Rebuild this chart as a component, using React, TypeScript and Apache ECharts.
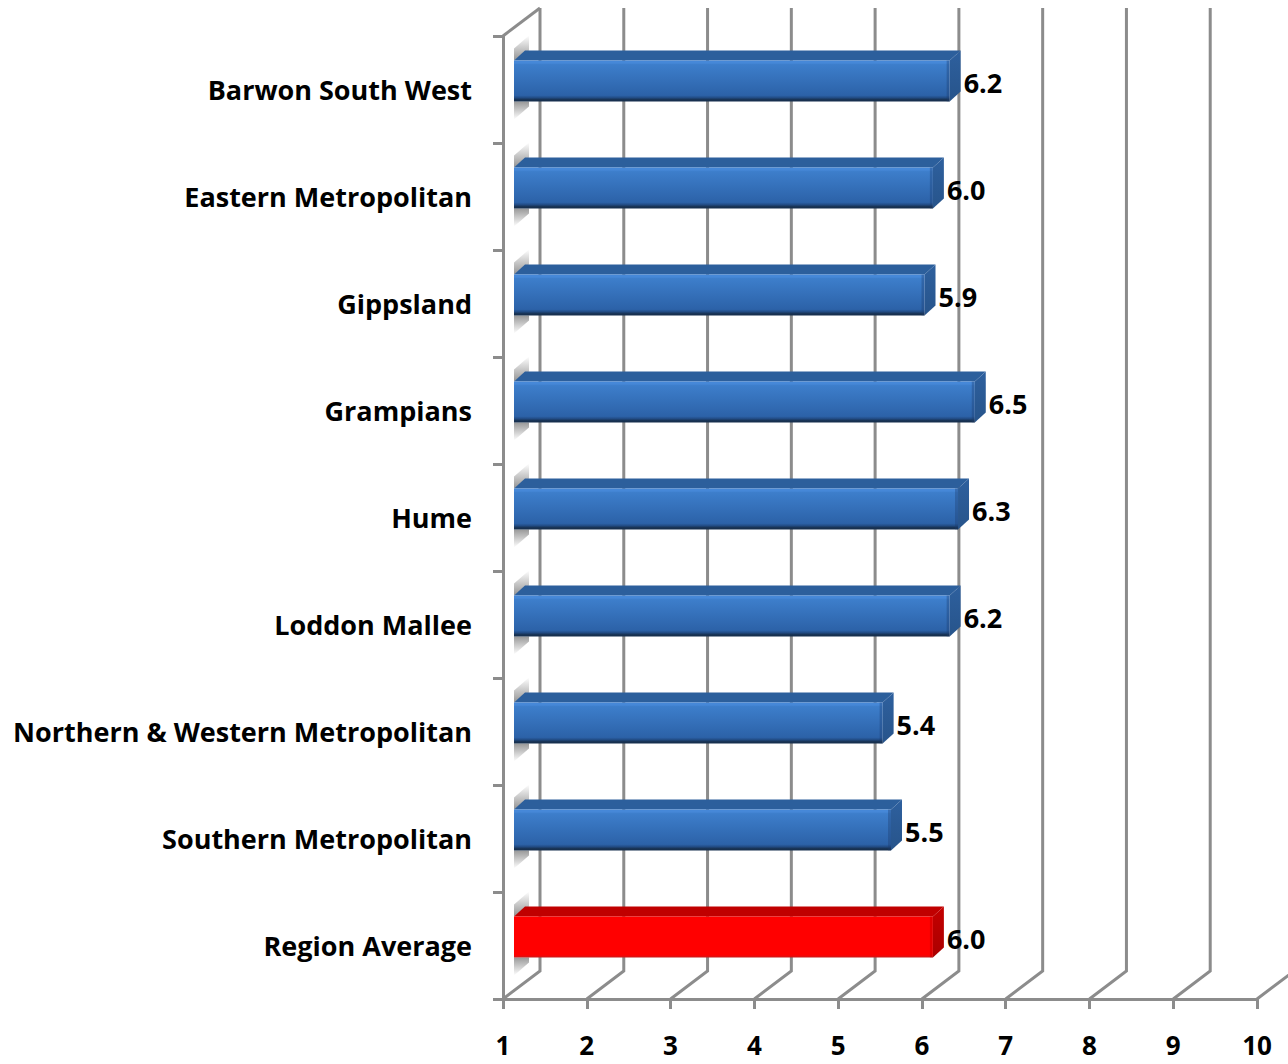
import React, { useEffect, useRef } from "react";
import * as echarts from "echarts";

const regions = [
  "Barwon South West",
  "Eastern Metropolitan",
  "Gippsland",
  "Grampians",
  "Hume",
  "Loddon Mallee",
  "Northern & Western Metropolitan",
  "Southern Metropolitan",
  "Region Average",
];
const scores = [6.2, 6.0, 5.9, 6.5, 6.3, 6.2, 5.4, 5.5, 6.0];
const averageIndex = 8;
const scaleTicks = [1, 2, 3, 4, 5, 6, 7, 8, 9, 10];

const FONT = "'Open Sans', sans-serif";
const FONT_SIZE = 27;
const TICK_FONT_SIZE = 26;
const AXIS_GREY = "#8c8c8c";

// Oblique offset of the back wall and of the bar's faces inside the box.
const WALL_DX = 37;
const WALL_DY = -28;
const BAR_DX = 11;
const BAR_DY = -8.5;
const BAR_DEPTH_DX = 11;
const BAR_DEPTH_DY = -10;
const BAR_HALF = 20.5;

const vgrad = (stops: [number, string][]) => ({
  type: "linear",
  x: 0,
  y: 0,
  x2: 0,
  y2: 1,
  colorStops: stops.map(([offset, color]) => ({ offset, color })),
});

const bluePalette = {
  front: vgrad([
    [0, "#4688d8"],
    [0.06, "#4688d8"],
    [0.1, "#3d7ecb"],
    [0.85, "#2c62a8"],
    [0.9, "#234f8a"],
    [0.96, "#17304f"],
    [1, "#17304f"],
  ]),
  edge: "rgba(30,60,110,0.35)",
  top: "#2c5f9c",
  side: vgrad([
    [0, "#2e609e"],
    [1, "#27548b"],
  ]),
};

const redPalette = {
  front: vgrad([
    [0, "#ff0000"],
    [0.94, "#ff0000"],
    [1, "#c81a1a"],
  ]),
  edge: "rgba(150,0,0,0.3)",
  top: "#c00000",
  side: vgrad([
    [0, "#c40000"],
    [1, "#aa0000"],
  ]),
};

function renderWallLine(params: any, api: any) {
  const tick = api.value(0);
  const grid = params.coordSys;
  const [x] = api.coord([tick, 0]);
  const floorY = grid.y + grid.height;
  return {
    type: "polyline",
    shape: {
      points: [
        [x, floorY],
        [x + WALL_DX, floorY + WALL_DY],
        [x + WALL_DX, grid.y + WALL_DY],
      ],
    },
    style: { stroke: AXIS_GREY, lineWidth: 3, fill: "none" },
  };
}

function renderSideWall(params: any) {
  const grid = params.coordSys;
  return {
    type: "polyline",
    shape: {
      points: [
        [grid.x, grid.y],
        [grid.x + WALL_DX, grid.y + WALL_DY],
      ],
    },
    style: { stroke: AXIS_GREY, lineWidth: 3, fill: "none" },
  };
}

function renderBar(params: any, api: any) {
  const value = api.value(0);
  const index = api.value(1);
  const [xStart] = api.coord([1, index]);
  const [xEnd, yMid] = api.coord([value, index]);
  const pal = index === averageIndex ? redPalette : bluePalette;

  const left = xStart + BAR_DX;
  const right = xEnd + BAR_DX;
  const top = yMid + BAR_DY - BAR_HALF;
  const bottom = yMid + BAR_DY + BAR_HALF;
  const bx = BAR_DEPTH_DX;
  const by = BAR_DEPTH_DY;
  const shadowW = bx + 4;

  // Soft shadow the bar casts on the side wall, above and below it.
  const upperShadow = {
    type: "polygon",
    shape: {
      points: [
        [left, top],
        [left, top - 12],
        [left + shadowW, top - 25],
        [left + shadowW, top + by],
      ],
    },
    style: {
      fill: vgrad([
        [0, "rgba(135,135,135,0)"],
        [0.95, "rgba(135,135,135,0.85)"],
        [1, "rgba(135,135,135,0.85)"],
      ]),
    },
  };
  const lowerShadow = {
    type: "polygon",
    shape: {
      points: [
        [left, bottom],
        [left + shadowW, bottom],
        [left + shadowW, bottom + 5],
        [left, bottom + 18],
      ],
    },
    style: {
      fill: vgrad([
        [0, "rgba(135,135,135,0.85)"],
        [1, "rgba(135,135,135,0)"],
      ]),
    },
  };

  return {
    type: "group",
    children: [
      upperShadow,
      lowerShadow,
      {
        type: "polygon",
        shape: {
          points: [
            [left, top],
            [left + bx, top + by],
            [right + bx, top + by],
            [right, top],
          ],
        },
        style: { fill: pal.top },
      },
      {
        type: "polygon",
        shape: {
          points: [
            [right, top],
            [right + bx, top + by],
            [right + bx, bottom + by],
            [right, bottom],
          ],
        },
        style: { fill: pal.side },
      },
      {
        type: "rect",
        shape: { x: left, y: top, width: right - left, height: bottom - top },
        style: { fill: pal.front },
      },
      {
        type: "rect",
        shape: { x: right - 3, y: top, width: 3, height: bottom - top },
        style: { fill: pal.edge },
      },
      {
        type: "text",
        style: {
          text: value.toFixed(1),
          x: right + 14,
          y: yMid - 7,
          font: `700 ${FONT_SIZE}px ${FONT}`,
          fill: "#000",
          textAlign: "left",
          textVerticalAlign: "middle",
        },
      },
    ],
  };
}

export default function App() {
  const ref = useRef<HTMLDivElement>(null);

  useEffect(() => {
    document.body.style.margin = "0";
    const chart = echarts.init(ref.current!, undefined, { renderer: "svg" });
    chart.setOption({
      animation: false,
      backgroundColor: "#fff",
      grid: { left: 503, right: 31, top: 36, bottom: 65, containLabel: false },
      xAxis: {
        type: "value",
        min: 1,
        max: 10,
        interval: 1,
        splitLine: { show: false },
        axisLine: { show: true, lineStyle: { color: AXIS_GREY, width: 3 } },
        axisTick: { show: true, length: 10, lineStyle: { color: AXIS_GREY, width: 3 } },
        axisLabel: {
          margin: 33,
          color: "#000",
          fontFamily: FONT,
          fontWeight: 700,
          fontSize: TICK_FONT_SIZE,
          hideOverlap: false,
        },
      },
      yAxis: {
        type: "category",
        inverse: true,
        data: regions,
        splitLine: { show: false },
        axisLine: { show: true, lineStyle: { color: AXIS_GREY, width: 3 } },
        axisTick: { show: true, length: 10, lineStyle: { color: AXIS_GREY, width: 3 } },
        axisLabel: {
          margin: 31,
          color: "#000",
          fontFamily: FONT,
          fontWeight: 700,
          fontSize: FONT_SIZE,
          interval: 0,
        },
      },
      series: [
        {
          type: "custom",
          renderItem: renderWallLine,
          data: scaleTicks.map((t) => [t]),
          encode: { x: 0 },
          silent: true,
          clip: false,
          z: 1,
        },
        {
          type: "custom",
          renderItem: renderSideWall,
          data: [[1]],
          encode: { x: 0 },
          silent: true,
          clip: false,
          z: 1,
        },
        {
          type: "custom",
          renderItem: renderBar,
          data: scores.map((s, i) => [s, i]),
          encode: { x: 0, y: 1 },
          silent: true,
          clip: false,
          z: 3,
        },
      ],
    });
    return () => chart.dispose();
  }, []);

  return <div ref={ref} style={{ width: 1288, height: 1064 }} />;
}
